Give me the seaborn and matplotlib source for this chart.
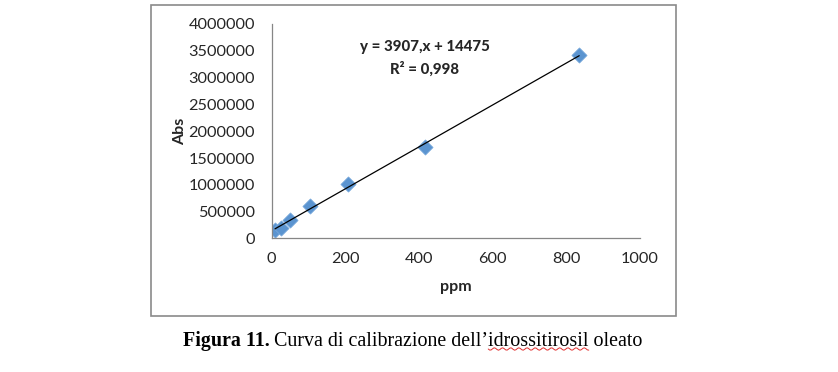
import numpy as np
import seaborn as sns
import matplotlib.pyplot as plt
from matplotlib.patches import Rectangle

# calibration points
ppm = [9, 25, 50, 104, 208, 416, 835]
abs_vals = [158000, 201000, 345000, 606000, 1010000, 1710000, 3420000]
eq_text = "y = 3907,x + 14475"
r2_text = "R² = 0,998"
x_ticks = [0, 200, 400, 600, 800, 1000]
y_ticks = [0, 500000, 1000000, 1500000, 2000000, 2500000, 3000000, 3500000, 4000000]
caption_bold = "Figura 11."
caption_rest = "Curva di calibrazione dell’idrossitirosil oleato"
caption_prefix = "Curva di calibrazione dell’"
caption_word = "idrossitirosil"

sns.set_style("white")
plt.rcParams['font.family'] = ['Lato', 'DejaVu Sans']

fig = plt.figure(figsize=(8.38, 3.72), dpi=100)
ax = fig.add_axes([0.3242, 0.3589, 0.4395, 0.5766])

# outer chart frame
fig.patches.append(Rectangle((151 / 838, 1 - 316 / 372), (676 - 151) / 838, (316 - 5) / 372,
                             transform=fig.transFigure, fill=False, edgecolor='#8a8a8a', lw=1.2))

sns.regplot(x=ppm, y=abs_vals, ax=ax, ci=None, marker='D', truncate=True,
            scatter_kws={'s': 60, 'color': '#5b94d0', 'edgecolors': '#7aa9dc', 'linewidths': 0.5, 'alpha': 1},
            line_kws={'color': 'black', 'lw': 0.9})

ax.set_xlim(0, 1000)
ax.set_ylim(0, 4000000)
ax.set_xticks(x_ticks)
ax.set_yticks(y_ticks)
ax.set_xticklabels([str(v) for v in x_ticks], fontsize=11.7)
ax.set_yticklabels([str(v) for v in y_ticks], fontsize=11.7)
ax.tick_params(axis='both', direction='out', length=4, width=0.8, color='#868686', pad=6)
ax.tick_params(axis='y', pad=8)
for side in ['top', 'right']:
    ax.spines[side].set_visible(False)
for side in ['left', 'bottom']:
    ax.spines[side].set_color('#868686')
    ax.spines[side].set_linewidth(0.9)

ax.set_xlabel("ppm", fontsize=11.5, fontweight='bold', labelpad=10)
ax.set_ylabel("Abs", fontsize=11.5, fontweight='bold', labelpad=1)

ax.text(416, 3570000, eq_text, ha='center', va='center', fontsize=10.8, fontweight='black')
ax.text(416, 3160000, r2_text, ha='center', va='center', fontsize=10.8, fontweight='black')

# caption: bold part then regular part, with the red spell-check squiggle
serif = ['Liberation Serif', 'DejaVu Serif']
fig.canvas.draw()
r = fig.canvas.get_renderer()
x0 = 183 / 838
yc = 1 - 341 / 372
t1 = fig.text(x0, yc, caption_bold, fontsize=14.4, fontweight='bold', family=serif, va='center', color='black')
w1 = t1.get_window_extent(r).width
x1 = x0 + (w1 + 4.5) / 838
t2 = fig.text(x1, yc, caption_rest, fontsize=14.4, family=serif, va='center', color='black')
tp = fig.text(0, 0, caption_prefix, fontsize=14.4, family=serif, alpha=0)
tw = fig.text(0, 0, caption_prefix + caption_word, fontsize=14.4, family=serif, alpha=0)
wa = tp.get_window_extent(r).width
wb = tw.get_window_extent(r).width
xs = np.linspace(x1 * 838 + wa, x1 * 838 + wb, 70)
ys = 349 + 1.2 * np.sin((xs - xs[0]) / 1.3)
fig.add_artist(plt.Line2D(xs / 838, 1 - ys / 372, transform=fig.transFigure, color='#e03030', lw=0.7))

fig.savefig("out.png", dpi=100)
